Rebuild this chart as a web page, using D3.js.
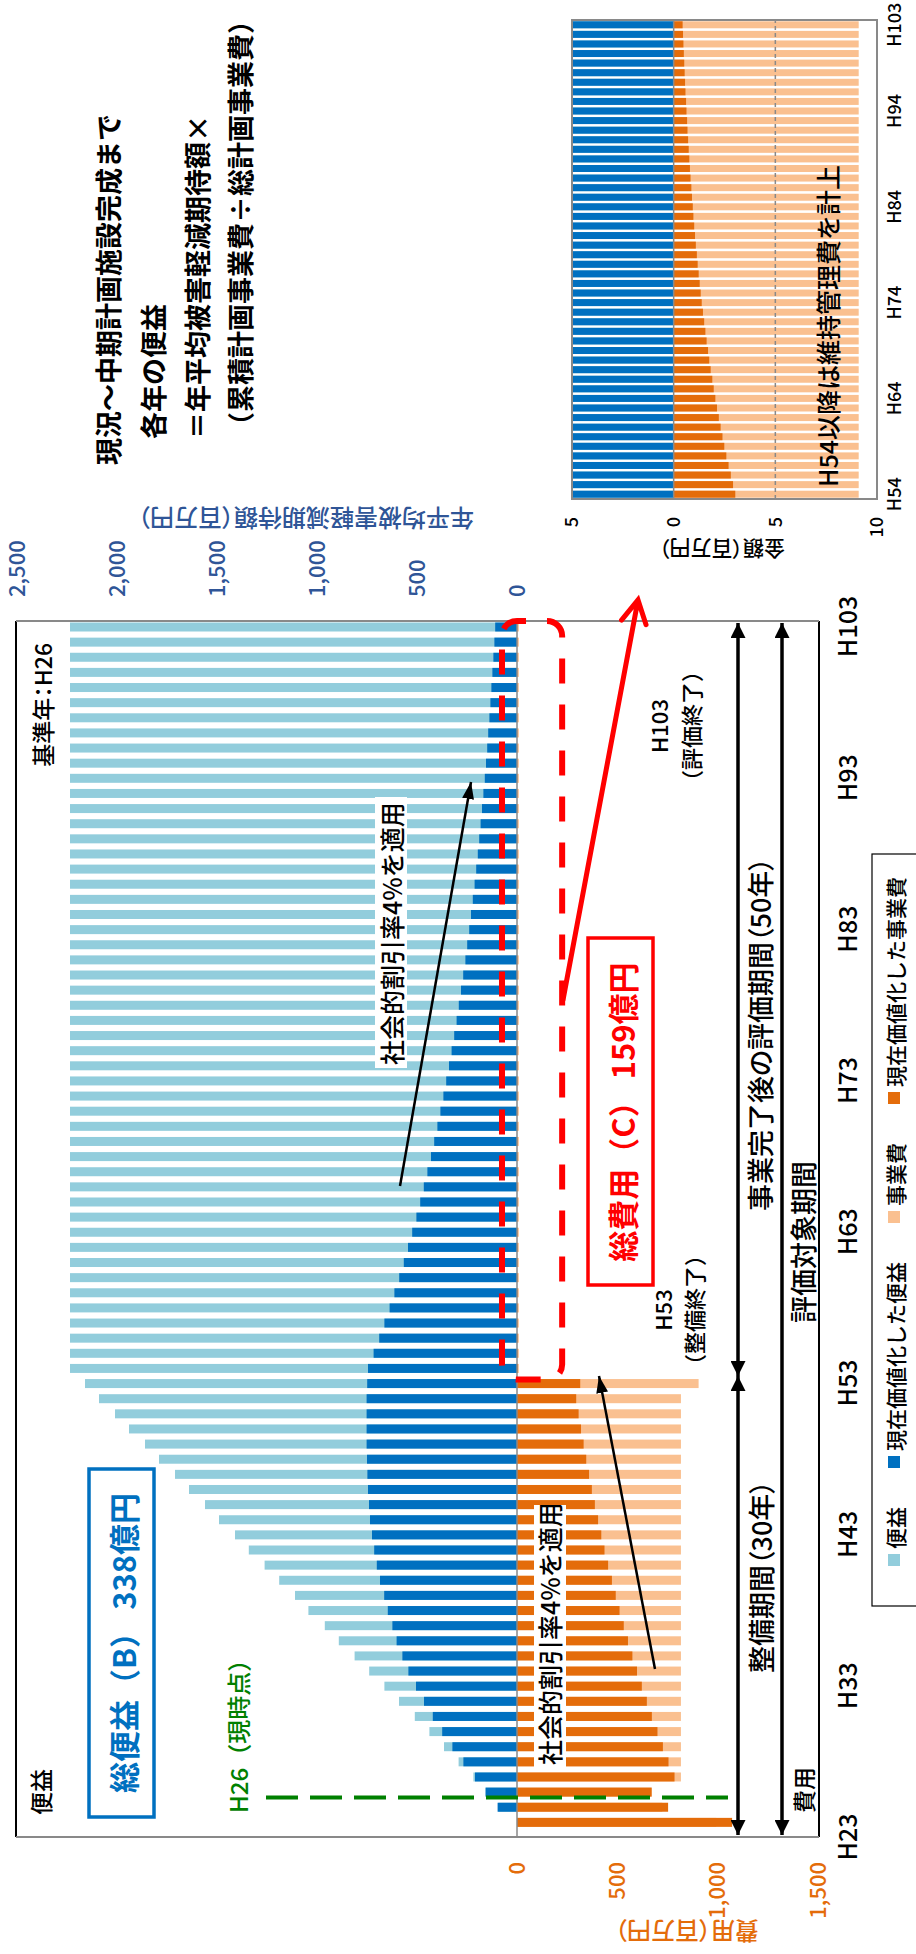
<!DOCTYPE html>
<html>
<head>
<meta charset="utf-8">
<script src="https://cdn.jsdelivr.net/npm/d3@7"></script>
<style>
body { margin: 0; background: #fff; }
svg { display: block; }
</style>
</head>
<body>
<script>
/* Benefit / cost bar chart, drawn landscape and turned -90deg to fit the page */

// categories (H23 has no bars, it only carries the first tick)
var firstYear = 23, lastYear = 103;
var years = d3.range(firstYear, lastYear + 1).map(function(n){ return 'H' + n; });
var barYears = years.slice(1);            // H24 .. H103
var yearTicks = ['H23','H33','H43','H53','H63','H73','H83','H93','H103'];
var insetTicks = ['H54','H64','H74','H84','H94','H103'];

// 便益 (百万円), H24..H103
var benefit = [
	0, 93, 157, 218, 292, 365, 438, 511, 590, 663,
	739, 812, 891, 961, 1043, 1110, 1189, 1262, 1341, 1410,
	1490, 1560, 1640, 1710, 1790, 1860, 1940, 2010, 2090, 2160,
	2235, 2235, 2235, 2235, 2235, 2235, 2235, 2235, 2235, 2235,
	2235, 2235, 2235, 2235, 2235, 2235, 2235, 2235, 2235, 2235,
	2235, 2235, 2235, 2235, 2235, 2235, 2235, 2235, 2235, 2235,
	2235, 2235, 2235, 2235, 2235, 2235, 2235, 2235, 2235, 2235,
	2235, 2235, 2235, 2235, 2235, 2235, 2235, 2235, 2235, 2235
];
// 現在価値化した便益
var benefitPV = [
	0, 97, 157, 210, 268, 323, 374, 421, 465, 505,
	543, 573, 602, 623, 646, 664, 685, 701, 714, 725,
	735, 740, 745, 748, 750, 752, 752, 752, 752, 749,
	745, 717, 689, 663, 637, 613, 589, 566, 545, 524,
	503, 484, 466, 448, 430, 414, 398, 383, 368, 354,
	340, 327, 314, 302, 291, 280, 269, 258, 249, 239,
	230, 221, 212, 204, 196, 189, 182, 175, 168, 161,
	155, 149, 144, 138, 133, 128, 123, 118, 113, 109
];
// 事業費
var cost = [
	993, 724, 671, 817, 817, 817, 817, 817, 817, 817,
	817, 817, 817, 817, 817, 817, 817, 817, 817, 817,
	817, 817, 817, 817, 817, 817, 817, 817, 817, 905,
	9.1, 9.1, 9.1, 9.1, 9.1, 9.1, 9.1, 9.1, 9.1, 9.1,
	9.1, 9.1, 9.1, 9.1, 9.1, 9.1, 9.1, 9.1, 9.1, 9.1,
	9.1, 9.1, 9.1, 9.1, 9.1, 9.1, 9.1, 9.1, 9.1, 9.1,
	9.1, 9.1, 9.1, 9.1, 9.1, 9.1, 9.1, 9.1, 9.1, 9.1,
	9.1, 9.1, 9.1, 9.1, 9.1, 9.1, 9.1, 9.1, 9.1, 9.1
];
// 現在価値化した事業費
var costPV = [
	1072, 753, 671, 785, 755, 727, 700, 672, 647, 622,
	598, 575, 553, 532, 511, 492, 473, 454, 436, 420,
	404, 388, 373, 359, 345, 332, 319, 307, 295, 315,
	3.03, 2.92, 2.81, 2.70, 2.59, 2.49, 2.40, 2.31, 2.22, 2.13,
	2.05, 1.97, 1.90, 1.82, 1.75, 1.69, 1.62, 1.56, 1.50, 1.44,
	1.38, 1.33, 1.28, 1.23, 1.18, 1.14, 1.09, 1.05, 1.01, 0.97,
	0.94, 0.90, 0.87, 0.83, 0.80, 0.77, 0.74, 0.71, 0.68, 0.66,
	0.63, 0.61, 0.58, 0.56, 0.54, 0.52, 0.50, 0.48, 0.46, 0.44
];

var benefitTicks = [0, 500, 1000, 1500, 2000, 2500];
var costTicks = [0, 500, 1000, 1500];
var insetValueTicks = [-5, 0, 5, 10];

var legendLabels = ['便益', '現在価値化した便益', '事業費', '現在価値化した事業費'];
var COL = {lb: '#92CDDC', b: '#0070C0', lo: '#FAC090', o: '#E46C0A',
	axisBlue: '#2F5597', green: '#008000', red: '#FF0000', grey: '#898989'};
var legendColors = [COL.lb, COL.b, COL.lo, COL.o];

var FONT = '"Noto Sans CJK JP", "Noto Sans", sans-serif';
var W = 916, H = 1954;

var rows = barYears.map(function(yr, i){
	return {yr: yr, b: benefit[i], bp: benefitPV[i], c: cost[i], cp: costPV[i]};
});

var svg = d3.select('body').append('svg')
	.attr('width', W).attr('height', H)
	.attr('font-family', FONT)
	.attr('font-weight', 500);
var defs = svg.append('defs');
// everything is drawn in a 1954 x 916 landscape frame
var g = svg.append('g').attr('transform', 'translate(0,' + H + ') rotate(-90)');

function arrowMarker(id, len, wid, color){
	defs.append('marker').attr('id', id)
		.attr('markerUnits', 'userSpaceOnUse')
		.attr('viewBox', '0 0 10 10').attr('preserveAspectRatio', 'none')
		.attr('refX', 10).attr('refY', 5)
		.attr('markerWidth', len).attr('markerHeight', wid)
		.attr('orient', 'auto-start-reverse')
		.append('path').attr('d', 'M0,0L10,5L0,10Z').attr('fill', color);
}
arrowMarker('ah-period', 15, 15, '#000');
arrowMarker('ah-small', 17, 12, '#000');

function addText(sel, str, x, y, size, o){
	o = o || {};
	var t = sel.append('text')
		.attr('transform', 'translate(' + x + ',' + y + ')' + (o.rotate ? ' rotate(' + o.rotate + ')' : ''))
		.attr('font-size', size)
		.attr('text-anchor', o.anchor || 'start')
		.attr('dominant-baseline', 'central')
		.attr('fill', o.fill || '#000')
		.text(str);
	if(o.bold) t.attr('font-weight', 'bold');
	if(o.palt) t.style('font-feature-settings', '"palt"');
	return t;
}

/* ---------- main chart ---------- */
var x = d3.scalePoint().domain(years).range([116.5, 1327]);
var yB = d3.scaleLinear().domain([0, 2500]).range([517, 17]);
var yC = d3.scaleLinear().domain([0, 1500]).range([517, 818]);
var BW = 9;
var frame = {x0: 117, x1: 1333, y0: 16, y1: 819};

var main = g.append('g').attr('class', 'main');

function barLayer(cls, color, scale, key){
	main.append('g').attr('class', cls).selectAll('rect')
		.data(rows).join('rect')
		.attr('x', function(d){ return x(d.yr) - BW / 2; })
		.attr('width', BW)
		.attr('y', function(d){ return Math.min(scale(0), scale(d[key])); })
		.attr('height', function(d){ return Math.abs(scale(d[key]) - scale(0)); })
		.attr('fill', color);
}
barLayer('benefit', COL.lb, yB, 'b');
barLayer('benefit-pv', COL.b, yB, 'bp');
barLayer('cost', COL.lo, yC, 'c');
barLayer('cost-pv', COL.o, yC, 'cp');

// zero line
main.append('line')
	.attr('x1', frame.x0).attr('x2', frame.x1)
	.attr('y1', yB(0)).attr('y2', yB(0))
	.attr('stroke', COL.grey).attr('stroke-width', 1.5);

// frame: long sides black, short sides grey
main.append('line').attr('x1', frame.x0).attr('x2', frame.x1).attr('y1', frame.y0).attr('y2', frame.y0)
	.attr('stroke', '#000').attr('stroke-width', 2);
main.append('line').attr('x1', frame.x0).attr('x2', frame.x1).attr('y1', frame.y1).attr('y2', frame.y1)
	.attr('stroke', '#000').attr('stroke-width', 2);
main.append('line').attr('x1', frame.x0).attr('x2', frame.x0).attr('y1', frame.y0).attr('y2', frame.y1)
	.attr('stroke', COL.grey).attr('stroke-width', 2);
main.append('line').attr('x1', frame.x1).attr('x2', frame.x1).attr('y1', frame.y0).attr('y2', frame.y1)
	.attr('stroke', COL.grey).attr('stroke-width', 2);

// axes
var xAxis = main.append('g').attr('transform', 'translate(0,829)')
	.call(d3.axisBottom(x).tickValues(yearTicks).tickSize(0).tickPadding(10));
var costAxis = main.append('g').attr('transform', 'translate(92,0)')
	.call(d3.axisLeft(yC).tickValues(costTicks).tickSize(0).tickPadding(0).tickFormat(d3.format(',')));
var benAxis = main.append('g').attr('transform', 'translate(1357,0)')
	.call(d3.axisRight(yB).tickValues(benefitTicks).tickSize(0).tickPadding(0).tickFormat(d3.format(',')));
[xAxis, costAxis, benAxis].forEach(function(a){
	a.attr('font-family', null).select('.domain').remove();
});
xAxis.attr('font-size', 25).selectAll('text').attr('fill', '#000');
costAxis.attr('font-size', 22).selectAll('text').attr('fill', COL.o);
benAxis.attr('font-size', 22).selectAll('text').attr('fill', COL.axisBlue);

addText(main, '費用（百万円）', 22, 687, 24, {rotate: -90, anchor: 'middle', fill: COL.o, palt: true});
addText(main, '年平均被害軽減期待額（百万円）', 1435, 306, 24, {rotate: -90, anchor: 'middle', fill: COL.axisBlue, palt: true});

// corner labels
addText(main, '便益', 139, 40, 23);
addText(main, '費用', 141, 803, 23);
addText(main, '基準年：H26', 1311, 42, 23, {anchor: 'end', palt: true});

// H26 present-year marker
var h26 = x('H26') - BW / 2 - 1;
main.append('line').attr('x1', h26).attr('x2', h26).attr('y1', 266).attr('y2', 728)
	.attr('stroke', COL.green).attr('stroke-width', 4).attr('stroke-dasharray', '32,12');
addText(main, 'H26（現時点）', 141, 237, 24, {fill: COL.green});

// total benefit box
main.append('rect').attr('x', 137).attr('y', 89).attr('width', 348).attr('height', 65)
	.attr('fill', '#fff').attr('stroke', COL.b).attr('stroke-width', 3.5);
addText(main, '総便益（B） 338億円', 311, 122, 31, {anchor: 'middle', fill: COL.b, bold: true});

// discount-rate notes with arrows
main.append('line').attr('x1', 768).attr('y1', 400).attr('x2', 1172).attr('y2', 471)
	.attr('stroke', '#000').attr('stroke-width', 2.5).attr('marker-end', 'url(#ah-small)');
main.append('rect').attr('x', 886).attr('y', 375).attr('width', 271).attr('height', 32).attr('fill', '#fff');
addText(main, '社会的割引率4%を適用', 889, 391, 25);

main.append('rect').attr('x', 186).attr('y', 534).attr('width', 263).attr('height', 32).attr('fill', '#fff');
addText(main, '社会的割引率4%を適用', 189, 549, 25);
main.append('line').attr('x1', 285).attr('y1', 655).attr('x2', 578).attr('y2', 599)
	.attr('stroke', '#000').attr('stroke-width', 2.5).attr('marker-end', 'url(#ah-small)');

// total cost: dashed outline around the maintenance period
main.append('rect')
	.attr('x', x('H53') + 4).attr('y', yB(75))
	.attr('width', frame.x1 - x('H53') - 4).attr('height', yC(225) - yB(75))
	.attr('rx', 15).attr('fill', 'none')
	.attr('stroke', COL.red).attr('stroke-width', 6).attr('stroke-dasharray', '25,21');
main.append('rect').attr('x', 669).attr('y', 588).attr('width', 347).attr('height', 65)
	.attr('fill', '#fff').attr('stroke', COL.red).attr('stroke-width', 3.5);
addText(main, '総費用（C） 159億円', 842, 621, 31, {anchor: 'middle', fill: COL.red, bold: true});

// red arrow to the inset
(function(){
	var p0 = [954, 563], p1 = [1354, 638];
	var a = Math.atan2(p1[1] - p0[1], p1[0] - p0[0]), len = 26, spread = 0.5;
	var arm = function(s){ return [p1[0] - len * Math.cos(a + s), p1[1] - len * Math.sin(a + s)]; };
	main.append('path')
		.attr('d', 'M' + p0 + 'L' + p1 + 'M' + arm(spread) + 'L' + p1 + 'L' + arm(-spread))
		.attr('fill', 'none').attr('stroke', COL.red).attr('stroke-width', 5)
		.attr('stroke-linejoin', 'miter').attr('stroke-linecap', 'round');
})();

addText(main, 'H53', 644, 662, 22, {anchor: 'middle'});
addText(main, '（整備終了）', 644, 693, 22, {anchor: 'middle'});
addText(main, 'H103', 1228, 658, 22, {anchor: 'middle'});
addText(main, '（評価終了）', 1228, 690, 22, {anchor: 'middle'});

// period arrows
var split = (x('H53') + x('H54')) / 2;
[[119, split, 738], [split, 1331, 738], [119, 1331, 782]].forEach(function(s){
	main.append('line').attr('x1', s[0]).attr('x2', s[1]).attr('y1', s[2]).attr('y2', s[2])
		.attr('stroke', '#000').attr('stroke-width', 3.5)
		.attr('marker-start', 'url(#ah-period)').attr('marker-end', 'url(#ah-period)');
});
addText(main, '整備期間（30年）', 281, 760, 27, {palt: true});
addText(main, '事業完了後の評価期間（50年）', 743, 759, 27, {palt: true});
addText(main, '評価対象期間', 631, 802, 27);

// legend
var leg = main.append('g').attr('class', 'legend');
leg.append('rect').attr('x', 348).attr('y', 872).attr('width', 752).attr('height', 70)
	.attr('fill', '#fff').attr('stroke', '#000').attr('stroke-width', 1.2);
var lx = 388;
legendLabels.forEach(function(lbl, i){
	leg.append('rect').attr('x', lx).attr('y', 888).attr('width', 12).attr('height', 12).attr('fill', legendColors[i]);
	var t = addText(leg, lbl, lx + 17, 895, 21);
	lx += 17 + t.node().getComputedTextLength() + 39;
});

/* ---------- caption ---------- */
var cap = g.append('g').attr('font-weight', 'bold');
addText(cap, '現況～中期計画施設完成まで', 1489, 107, 27, {bold: true});
addText(cap, '各年の便益', 1515, 152, 27, {bold: true});
addText(cap, '＝年平均被害軽減期待額×', 1515, 196, 27, {bold: true});
addText(cap, '（累積計画事業費÷総計画事業費）', 1515, 239, 27, {bold: true});

/* ---------- inset: H54 onwards in 百万円 ---------- */
var inset = g.append('g').attr('class', 'inset');
var insetYears = barYears.slice(30);
var insetRows = rows.slice(30);
var xi = d3.scaleBand().domain(insetYears).range([1455, 1934]).paddingInner(0.27).paddingOuter(0.135);
var yi = d3.scaleLinear().domain([-5, 10]).range([572, 877]);

defs.append('clipPath').attr('id', 'inset-clip').append('rect')
	.attr('x', 1455).attr('y', yi(-5)).attr('width', 479).attr('height', yi(10) - yi(-5));
var ib = inset.append('g').attr('clip-path', 'url(#inset-clip)');
[['b', COL.lb, -1], ['bp', COL.b, -1], ['c', COL.lo, 1], ['cp', COL.o, 1]].forEach(function(s){
	ib.append('g').selectAll('rect').data(insetRows).join('rect')
		.attr('x', function(d){ return xi(d.yr); })
		.attr('width', xi.bandwidth())
		.attr('y', function(d){ return Math.min(yi(0), yi(s[2] * d[s[0]])); })
		.attr('height', function(d){ return Math.abs(yi(s[2] * d[s[0]]) - yi(0)); })
		.attr('fill', s[1]);
});
inset.append('line').attr('x1', 1455).attr('x2', 1934).attr('y1', yi(5)).attr('y2', yi(5))
	.attr('stroke', COL.grey).attr('stroke-width', 1.5).attr('stroke-dasharray', '4,3');
inset.append('line').attr('x1', 1455).attr('x2', 1934).attr('y1', yi(0)).attr('y2', yi(0))
	.attr('stroke', COL.grey).attr('stroke-width', 1.5);
inset.append('rect').attr('x', 1455).attr('y', yi(-5)).attr('width', 479).attr('height', yi(10) - yi(-5))
	.attr('fill', 'none').attr('stroke', COL.grey).attr('stroke-width', 2);

var ixAxis = inset.append('g').attr('transform', 'translate(0,888)')
	.call(d3.axisBottom(xi).tickValues(insetTicks).tickSize(0).tickPadding(0));
var iyAxis = inset.append('g').attr('transform', 'translate(1437,0)')
	.call(d3.axisLeft(yi).tickValues(insetValueTicks).tickSize(0).tickPadding(0)
		.tickFormat(function(d){ return Math.abs(d); }));
[ixAxis, iyAxis].forEach(function(a){
	a.attr('font-family', null).attr('font-size', 18).select('.domain').remove();
	a.selectAll('text').attr('fill', '#000');
});
addText(inset, '金額（百万円）', 1404, 722, 21, {rotate: -90, anchor: 'middle', palt: true});
addText(inset, 'H54以降は維持管理費を計上', 1467, 827, 25);
</script>
</body>
</html>
